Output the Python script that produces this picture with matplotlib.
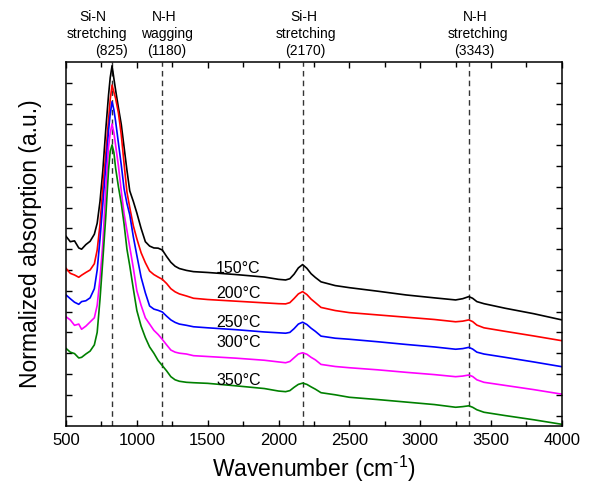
import matplotlib
matplotlib.use("Agg")
import matplotlib.pyplot as plt
import matplotlib.transforms as mtransforms

plt.rcParams["font.family"] = ["Liberation Sans", "DejaVu Sans"]
plt.rcParams["mathtext.fontset"] = "custom"
plt.rcParams["mathtext.rm"] = "Liberation Sans"

WAVENUMBER = [500, 530, 560, 590, 610, 640, 670, 700, 720, 740, 760, 780, 800, 812, 825, 838, 850,
              870, 890, 910, 930, 950, 975, 1000, 1030, 1060, 1090, 1120, 1150, 1180, 1210, 1240,
              1270, 1300, 1350, 1400, 1500, 1700, 1900, 2000, 2050, 2080, 2110, 2140, 2170, 2200,
              2230, 2260, 2300, 2400, 2500, 2700, 2900, 3100, 3250, 3300, 3343, 3370, 3400, 3450,
              3600, 3800, 4000]

ABS_150 = [0.862, 0.836, 0.840, 0.806, 0.800, 0.822, 0.838, 0.872, 0.925, 1.030, 1.180, 1.370, 1.540,
           1.625, 1.682, 1.620, 1.565, 1.480, 1.400, 1.290, 1.180, 1.080, 1.030, 0.974, 0.900, 0.836,
           0.815, 0.806, 0.805, 0.796, 0.765, 0.737, 0.718, 0.707, 0.698, 0.692, 0.688, 0.678, 0.666,
           0.655, 0.652, 0.658, 0.680, 0.710, 0.726, 0.708, 0.682, 0.664, 0.643, 0.625, 0.615, 0.598,
           0.580, 0.566, 0.556, 0.562, 0.572, 0.564, 0.548, 0.538, 0.516, 0.490, 0.460]

ABS_200 = [0.708, 0.684, 0.676, 0.665, 0.675, 0.688, 0.700, 0.730, 0.796, 0.920, 1.100, 1.253, 1.420,
           1.520, 1.589, 1.555, 1.525, 1.455, 1.350, 1.210, 1.075, 1.000, 0.913, 0.850, 0.783, 0.735,
           0.695, 0.678, 0.666, 0.655, 0.635, 0.610, 0.595, 0.585, 0.575, 0.564, 0.558, 0.550, 0.542,
           0.538, 0.537, 0.543, 0.563, 0.585, 0.596, 0.582, 0.560, 0.543, 0.520, 0.505, 0.495, 0.484,
           0.473, 0.462, 0.451, 0.454, 0.460, 0.452, 0.435, 0.422, 0.405, 0.383, 0.360]

ABS_250 = [0.580, 0.562, 0.545, 0.535, 0.548, 0.552, 0.566, 0.610, 0.700, 0.850, 1.020, 1.190, 1.370,
           1.450, 1.509, 1.470, 1.415, 1.310, 1.205, 1.090, 1.020, 0.965, 0.860, 0.770, 0.665, 0.590,
           0.527, 0.512, 0.506, 0.498, 0.478, 0.460, 0.448, 0.440, 0.434, 0.427, 0.422, 0.413, 0.402,
           0.398, 0.396, 0.400, 0.418, 0.440, 0.449, 0.438, 0.420, 0.405, 0.382, 0.372, 0.367, 0.355,
           0.342, 0.330, 0.319, 0.322, 0.328, 0.320, 0.305, 0.296, 0.280, 0.258, 0.235]

ABS_300 = [0.475, 0.460, 0.434, 0.440, 0.415, 0.430, 0.450, 0.470, 0.530, 0.660, 0.830, 1.085, 1.290,
           1.360, 1.402, 1.360, 1.300, 1.200, 1.080, 0.970, 0.890, 0.810, 0.710, 0.600, 0.530, 0.470,
           0.440, 0.410, 0.390, 0.366, 0.340, 0.315, 0.305, 0.300, 0.296, 0.288, 0.284, 0.276, 0.266,
           0.258, 0.254, 0.260, 0.278, 0.296, 0.302, 0.295, 0.280, 0.268, 0.246, 0.236, 0.230, 0.220,
           0.208, 0.197, 0.187, 0.190, 0.195, 0.188, 0.172, 0.160, 0.145, 0.125, 0.103]

ABS_350 = [0.323, 0.305, 0.298, 0.277, 0.280, 0.296, 0.310, 0.340, 0.400, 0.560, 0.750, 0.950, 1.180,
           1.270, 1.301, 1.265, 1.190, 1.100, 1.020, 0.920, 0.800, 0.720, 0.610, 0.505, 0.430, 0.375,
           0.330, 0.300, 0.265, 0.240, 0.215, 0.187, 0.172, 0.165, 0.160, 0.158, 0.155, 0.143, 0.130,
           0.118, 0.115, 0.120, 0.136, 0.150, 0.156, 0.150, 0.138, 0.127, 0.110, 0.100, 0.088, 0.077,
           0.065, 0.053, 0.040, 0.043, 0.047, 0.040, 0.028, 0.016, 0.000, -0.020, -0.042]

TEMPERATURES = ["150°C", "200°C", "250°C", "300°C", "350°C"]
COLORS = ["black", "red", "blue", "magenta", "green"]
LABEL_Y = [0.708, 0.585, 0.447, 0.350, 0.171]
LABEL_X = 1560

PEAKS = [825, 1180, 2170, 3343]
PEAK_TEXT = [
    [("Si-N", 690), ("stretching", 715), ("(825)", 818)],
    [("N-H", 1195), ("wagging", 1213), ("(1180)", 1213)],
    [("Si-H", 2180), ("stretching", 2193), ("(2170)", 2187)],
    [("N-H", 3390), ("stretching", 3408), ("(3343)", 3380)],
]


def main():
    series = [ABS_150, ABS_200, ABS_250, ABS_300, ABS_350]

    fig = plt.figure(figsize=(5.91, 4.87), dpi=100)
    ax = fig.add_axes([0.1117, 0.1253, 0.839, 0.7474])

    for peak in PEAKS:
        ax.axvline(peak, color="#333333", linestyle=(0, (4, 3)), linewidth=1.0, zorder=1)

    for values, color in zip(series, COLORS):
        ax.plot(WAVENUMBER, values, color=color, linewidth=1.2, zorder=2)

    for label, y in zip(TEMPERATURES, LABEL_Y):
        ax.text(LABEL_X, y, label, fontsize=11.5, ha="left", va="center", zorder=3)

    trans = mtransforms.blended_transform_factory(ax.transData, ax.transAxes)
    line_y = [1.124, 1.077, 1.030]
    for lines in PEAK_TEXT:
        for (txt, x), y in zip(lines, line_y):
            ax.text(x, y, txt, fontsize=10, ha="center", va="center", transform=trans)

    ax.set_xlim(500, 4000)
    ax.set_ylim(-0.05, 1.70)
    ax.set_xticks(range(500, 4001, 500))
    ax.set_xticks(range(750, 4000, 500), minor=True)
    ax.set_yticks([i / 10 for i in range(17)])
    ax.set_yticklabels([])
    ax.tick_params(axis="both", which="both", direction="in", top=True, right=True, width=1.0)
    ax.tick_params(axis="x", which="major", length=4.5, labelsize=12, pad=5)
    ax.tick_params(axis="x", which="minor", length=3.5)
    ax.tick_params(axis="y", which="major", length=4)
    for spine in ax.spines.values():
        spine.set_linewidth(1.1)

    ax.set_xlabel(r"Wavenumber (cm$^{\text{-1}}$)", fontsize=16.5, labelpad=4)
    ax.set_ylabel("Normalized absorption (a.u.)", fontsize=16.5, labelpad=14)

    fig.savefig("out.png", dpi=100)


if __name__ == "__main__":
    main()
